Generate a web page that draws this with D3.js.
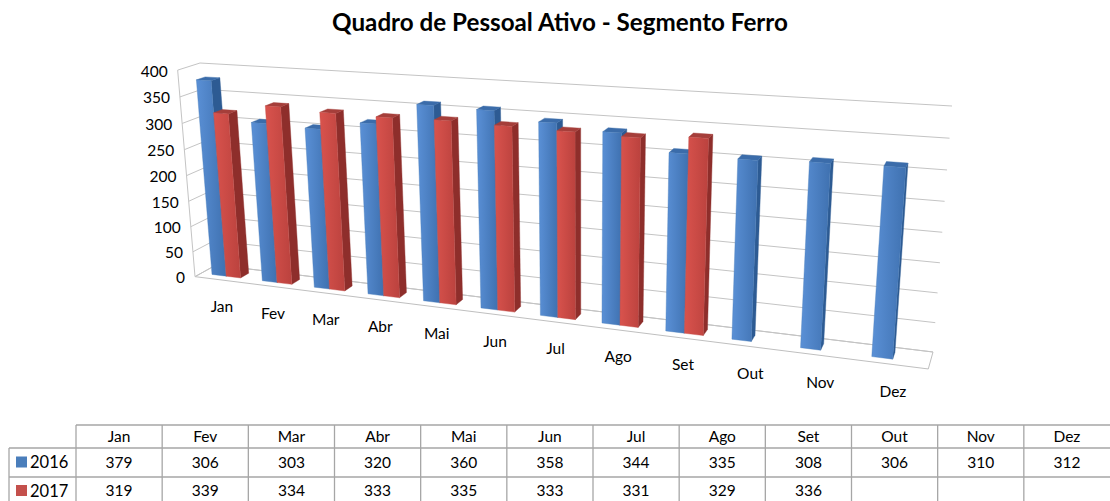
<!DOCTYPE html>
<html>
<head>
<meta charset="utf-8">
<script src="https://cdn.jsdelivr.net/npm/d3@7"></script>
<style>
  body { margin: 0; background: #fff; }
  svg { display: block; }
  text { font-family: Lato, "Open Sans", sans-serif; fill: #000; }
</style>
</head>
<body>
<svg id="chart" width="1110" height="501"></svg>
<script>
const months = ["Jan", "Fev", "Mar", "Abr", "Mai", "Jun", "Jul", "Ago", "Set", "Out", "Nov", "Dez"];
const series = ["2016", "2017"];
const values2016 = [379, 306, 303, 320, 360, 358, 344, 335, 308, 306, 310, 312];
const values2017 = [319, 339, 334, 333, 335, 333, 331, 329, 336];
const valueTicks = [0, 50, 100, 150, 200, 250, 300, 350, 400];
const title = "Quadro de Pessoal Ativo - Segmento Ferro";

const colors = {
  "2016": { light: "#5a90d6", front: "#4a7ebb", dark: "#3f71b0", side: "#2d5b93", top: "#3b6caa" },
  "2017": { light: "#d9534d", front: "#c4504c", dark: "#bb423e", side: "#8e2e2b", top: "#a53e3a" },
};

const svg = d3.select("#chart");
const defs = svg.append("defs");
series.forEach((s) => {
  const g = defs.append("linearGradient").attr("id", "grad" + s)
    .attr("x1", 0).attr("x2", 1).attr("y1", 0).attr("y2", 0);
  g.append("stop").attr("offset", "0%").attr("stop-color", colors[s].light);
  g.append("stop").attr("offset", "100%").attr("stop-color", colors[s].dark);
});

// world: u along categories [0,1], v value [0,1], z depth (0 front, 1 back wall)
const x0 = d3.scaleBand().domain(months).range([0, 1]).paddingInner(0.4286).paddingOuter(0.2143);
const x1 = d3.scaleBand().domain(series).range([0, x0.bandwidth()]);
const y = d3.scaleLinear().domain([0, 400]).range([0, 1]);

// back wall corners [u, v, screenX, screenY] and depth vanishing point
const wallCorners = [[0, 0, 216, 265], [0, 1, 200, 63], [1, 0, 933, 352], [1, 1, 952, 106]];
const vanish = [1092, -221];
const floorDepth = 0.0234;

function homography(pts) {
  const A = [], b = [];
  pts.forEach(([u, v, X, Y]) => {
    A.push([u, v, 1, 0, 0, 0, -X * u, -X * v]); b.push(X);
    A.push([0, 0, 0, u, v, 1, -Y * u, -Y * v]); b.push(Y);
  });
  const n = 8;
  for (let c = 0; c < n; c++) {
    let p = c;
    for (let r = c + 1; r < n; r++) if (Math.abs(A[r][c]) > Math.abs(A[p][c])) p = r;
    [A[c], A[p]] = [A[p], A[c]];
    [b[c], b[p]] = [b[p], b[c]];
    for (let r = 0; r < n; r++) {
      if (r === c) continue;
      const f = A[r][c] / A[c][c];
      for (let k = c; k < n; k++) A[r][k] -= f * A[c][k];
      b[r] -= f * b[c];
    }
  }
  return [...b.map((v, i) => v / A[i][i]), 1];
}

const H = homography(wallCorners);
const hw = (u, v) => [H[0] * u + H[1] * v + H[2], H[3] * u + H[4] * v + H[5], H[6] * u + H[7] * v + H[8]];
const mu = floorDepth * hw(0, 0)[2];
function project(u, v, z) {
  const [qx, qy, qw] = hw(u, v);
  const m = mu * (z - 1);
  return [(qx + m * vanish[0]) / (qw + m), (qy + m * vanish[1]) / (qw + m)];
}
const poly = (pts) => "M" + pts.map((p) => p.join(",")).join("L") + "Z";
const path = (pts) => "M" + pts.map((p) => p.join(",")).join("L");

// title
const titleText = svg.append("text")
  .attr("x", 560).attr("y", 31)
  .attr("text-anchor", "middle")
  .attr("font-weight", "bold")
  .attr("font-size", 19)
  .text(title);
const tl = titleText.node().getComputedTextLength();
titleText.attr("font-size", 19 * 456 / tl);

const chart = svg.append("g");

// floor
chart.append("path")
  .attr("d", poly([project(0, 0, 0), project(1, 0, 0), project(1, 0, 1), project(0, 0, 1)]))
  .attr("fill", "#fff").attr("stroke", "#bfbfbf").attr("stroke-width", 1);

// gridlines across side wall and back wall
chart.selectAll(".grid")
  .data(valueTicks)
  .join("path")
  .attr("class", "grid")
  .attr("d", (t) => path([project(0, y(t), 0), project(0, y(t), 1), project(1, y(t), 1)]))
  .attr("fill", "none").attr("stroke", "#c4c4c4").attr("stroke-width", 1);

// side wall front edge
chart.append("path")
  .attr("d", path([project(0, 0, 0), project(0, 1, 0)]))
  .attr("stroke", "#c4c4c4").attr("stroke-width", 1);

// value axis labels
chart.selectAll(".ylab")
  .data(valueTicks)
  .join("text")
  .attr("class", "ylab")
  .attr("x", (t) => project(0, y(t), 0)[0] - 10)
  .attr("y", (t) => project(0, y(t), 0)[1] + 1)
  .attr("dy", "0.35em")
  .attr("text-anchor", "end")
  .attr("font-size", 15.5)
  .text((t) => t);

// bars
const bars = [];
months.forEach((m, i) => {
  series.forEach((s) => {
    const val = (s === "2016" ? values2016 : values2017)[i];
    if (val == null) return;
    bars.push({ month: m, series: s, value: val });
  });
});
const zFront = 0.3, zBack = 0.7;
const barG = chart.selectAll(".bar")
  .data(bars)
  .join("g")
  .attr("class", "bar");
barG.each(function (d) {
  const g = d3.select(this);
  const u0 = x0(d.month) + x1(d.series);
  const u1 = u0 + x1.bandwidth();
  const v = y(d.value);
  const c = colors[d.series];
  const faces = [
    { pts: [project(u1, 0, zFront), project(u1, 0, zBack), project(u1, v, zBack), project(u1, v, zFront)], fill: c.side, stroke: c.side },
    { pts: [project(u0, v, zFront), project(u1, v, zFront), project(u1, v, zBack), project(u0, v, zBack)], fill: c.top, stroke: c.top },
    { pts: [project(u0, 0, zFront), project(u1, 0, zFront), project(u1, v, zFront), project(u0, v, zFront)], fill: `url(#grad${d.series})`, stroke: c.front },
  ];
  g.selectAll("path")
    .data(faces)
    .join("path")
    .attr("d", (f) => poly(f.pts))
    .attr("fill", (f) => f.fill)
    .attr("stroke", (f) => f.stroke)
    .attr("stroke-width", 0.4);
});

// category labels
chart.selectAll(".xlab")
  .data(months)
  .join("text")
  .attr("class", "xlab")
  .attr("x", (m) => project(x0(m) + x0.bandwidth() / 2, 0, 0)[0] + 2)
  .attr("y", (m) => project(x0(m) + x0.bandwidth() / 2, 0, 0)[1] + 27)
  .attr("dy", "0.35em")
  .attr("text-anchor", "middle")
  .attr("font-size", 15.5)
  .text((m) => m);

// data table
const col = d3.scaleBand().domain(months).range([76, 1110]);
const rowLines = [425, 448, 477, 505];
const labelLeft = 9;
const table = svg.append("g").attr("stroke", "#a6a6a6").attr("stroke-width", 1.3);
table.append("line").attr("x1", 76).attr("x2", 1110).attr("y1", rowLines[0]).attr("y2", rowLines[0]);
table.selectAll(".hline")
  .data(rowLines.slice(1, 3))
  .join("line")
  .attr("x1", labelLeft).attr("x2", 1110)
  .attr("y1", (d) => d).attr("y2", (d) => d);
table.selectAll(".vline")
  .data(months)
  .join("line")
  .attr("x1", (m) => col(m)).attr("x2", (m) => col(m))
  .attr("y1", rowLines[0]).attr("y2", 501);
table.append("line").attr("x1", labelLeft).attr("x2", labelLeft).attr("y1", rowLines[1]).attr("y2", 501);

const cellFont = 15.5;
svg.selectAll(".colhead")
  .data(months)
  .join("text")
  .attr("x", (m) => col(m) + col.bandwidth() / 2)
  .attr("y", (rowLines[0] + rowLines[1]) / 2)
  .attr("dy", "0.35em")
  .attr("text-anchor", "middle")
  .attr("font-size", cellFont)
  .text((m) => m);

series.forEach((s, j) => {
  const vals = s === "2016" ? values2016 : values2017;
  const cy = (rowLines[j + 1] + rowLines[j + 2]) / 2;
  svg.append("rect")
    .attr("x", 16).attr("y", cy - 6).attr("width", 11).attr("height", 11)
    .attr("fill", colors[s].front);
  svg.append("text")
    .attr("x", 30).attr("y", cy).attr("dy", "0.35em")
    .attr("font-size", cellFont + 1)
    .text(s);
  svg.selectAll(".cell" + s)
    .data(vals)
    .join("text")
    .attr("x", (v, i) => col(months[i]) + col.bandwidth() / 2)
    .attr("y", cy)
    .attr("dy", "0.35em")
    .attr("text-anchor", "middle")
    .attr("font-size", cellFont)
    .text((v) => v);
});
</script>
</body>
</html>
